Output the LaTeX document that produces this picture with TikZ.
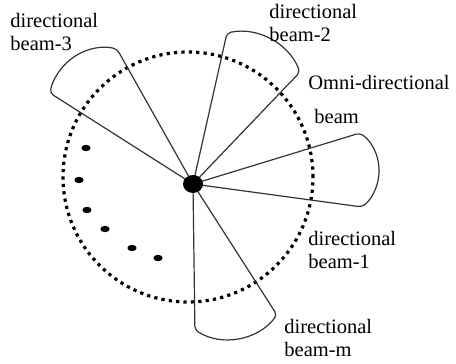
\documentclass[tikz,border=0pt]{standalone}
\usepackage{fontspec}
\setmainfont{Liberation Serif}

\begin{document}
\begin{tikzpicture}[
  x = 0.5pt, y = 0.5pt,
  beam/.style = {draw=black!80, line width=0.6pt, line join=round, rounded corners=2pt},
  ring/.style = {draw, line width=1.6pt, dash pattern=on 1.6pt off 2.1pt},
  lbl/.style = {anchor=north west, inner sep=0pt, align=left, font=\fontsize{10.25}{11.5}\selectfont}
]
\useasboundingbox (0,0) rectangle (456,364);

% Antenna position
\coordinate (O) at (193,180);

% Omni-directional coverage
\draw[ring] (188,187) circle (62.5pt);

% Beam corners
\coordinate (A1) at (360,231);
\coordinate (A2) at (227,331);
\coordinate (A3) at (117,315);
\coordinate (Am) at (277,49);

% Directional beams
\draw[beam] (O) -- (A1) arc[start angle=53.5, end angle=-50.4, radius=23.5pt] -- (O); % beam-1
\draw[beam] (O) -- (A2) arc[start angle=101.7, end angle=22, radius=32.3pt] -- (O); % beam-2
\draw[beam] (O) -- (A3) arc[start angle=77.4, end angle=169.3, radius=27.9pt] -- (O); % beam-3
\draw[beam] (O) -- (Am) arc[start angle=-37.6, end angle=-121.7, radius=31.15pt] -- (O); % beam-m

% Antenna
\fill (O) ellipse [x radius=5pt, y radius=4.5pt];

% Further beams
\fill (86,216) ellipse [x radius=2.3pt, y radius=1.6pt];
\fill (79,184) ellipse [x radius=2.3pt, y radius=1.6pt];
\fill (87,154) ellipse [x radius=2.3pt, y radius=1.6pt];
\fill (105,135) ellipse [x radius=2.3pt, y radius=1.6pt];
\fill (132,116) ellipse [x radius=2.3pt, y radius=1.6pt];
\fill (158,106) ellipse [x radius=2.3pt, y radius=1.6pt];

% Labels
\node[lbl] (L3) at (10,351) {directional\\beam-3};
\node[lbl] (L2) at (269,360) {directional\\beam-2};
\node[lbl] (Lo) at (308,289) {Omni-directional};
\node[lbl] (Lb) at (314,255) {beam};
\node[lbl] (L1) at (308,133) {directional\\beam-1};
\node[lbl] (Lm) at (284,45) {directional\\beam-m};

\end{tikzpicture}
\end{document}
